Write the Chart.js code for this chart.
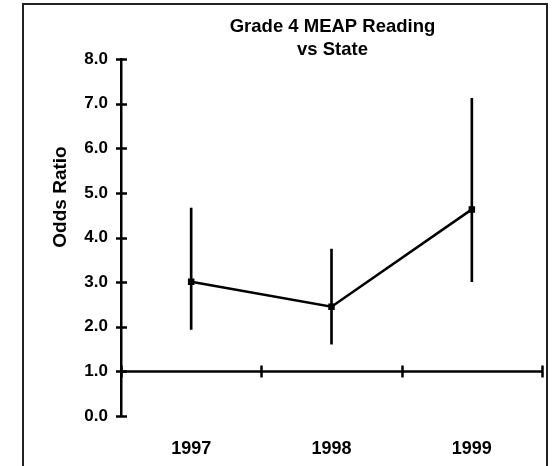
<!DOCTYPE html>
<html>
<head>
<meta charset="utf-8">
<script src="https://cdn.jsdelivr.net/npm/chart.js@4"></script>
<style>
    html, body { margin: 0; padding: 0; background: #fff; }
    #wrap { position: relative; width: 554px; height: 466px; overflow: hidden; }
    #frame {
        position: absolute; left: 22px; top: 3px; width: 526px; height: 480px;
        box-sizing: border-box; border: 2px solid #222;
    }
    canvas { position: absolute; left: 0; top: 0; }
</style>
</head>
<body>
<div id="wrap">
    <div id="frame"></div>
    <canvas id="chart" width="554" height="466"></canvas>
</div>
<script>
// Odds ratio vs state
const years = ['1997', '1998', '1999'];
const oddsRatio = [3.01, 2.45, 4.63];
const lowerLimit = [1.94, 1.61, 3.01];
const upperLimit = [4.66, 3.74, 7.12];
const titleLines = ['Grade 4 MEAP Reading', 'vs State'];
const yTitle = 'Odds Ratio';

const FONT = "'Liberation Sans', Arial, sans-serif";

// axis cross ticks, the x axis sitting at 1.0, and the titles
const axesPlugin = {
    id: 'axesPlugin',
    afterDraw(chart) {
        const ctx = chart.ctx;
        const x = chart.scales.x;
        const y = chart.scales.y;
        const area = chart.chartArea;
        ctx.save();
        ctx.strokeStyle = '#000';
        ctx.lineWidth = 2.5;

        // y ticks cross the axis
        y.ticks.forEach(t => {
            const py = Math.round(y.getPixelForValue(t.value)) + 0.5;
            ctx.beginPath();
            ctx.moveTo(area.left - 5, py);
            ctx.lineTo(area.left + 6, py);
            ctx.stroke();
        });

        // horizontal axis at odds ratio 1.0
        const baseY = Math.round(y.getPixelForValue(1)) + 0.5;
        ctx.beginPath();
        ctx.moveTo(area.left, baseY);
        ctx.lineTo(area.right, baseY);
        ctx.stroke();
        for (let i = 0; i <= years.length; i++) {
            const px = Math.round(x.getPixelForValue(i - 0.5)) + 0.5;
            ctx.beginPath();
            ctx.moveTo(px, baseY - 6);
            ctx.lineTo(px, baseY + 6);
            ctx.stroke();
        }

        // chart title
        ctx.fillStyle = '#000';
        ctx.textAlign = 'center';
        ctx.textBaseline = 'middle';
        ctx.font = 'bold 18.5px ' + FONT;
        const cx = (area.left + area.right) / 2;
        titleLines.forEach((line, i) => {
            ctx.fillText(line, cx + 1, 27 + i * 22.5);
        });

        // y axis title
        ctx.font = 'bold 19px ' + FONT;
        ctx.translate(61, 197);
        ctx.rotate(-Math.PI / 2);
        ctx.fillText(yTitle, 0, 0);
        ctx.restore();
    }
};

new Chart(document.getElementById('chart'), {
    data: {
        labels: years,
        datasets: [{
            type: 'line',
            data: oddsRatio,
            borderColor: '#000',
            backgroundColor: '#000',
            borderWidth: 2.5,
            pointStyle: 'rect',
            pointRadius: 4.6,
            pointBackgroundColor: '#000',
            pointBorderWidth: 0,
            tension: 0,
            order: 0
        },
        {
            type: 'bar',
            data: years.map((_, i) => [lowerLimit[i], upperLimit[i]]),
            backgroundColor: '#000',
            borderWidth: 0,
            barThickness: 2,
            order: 1
        }]
    },
    options: {
        responsive: false,
        animation: false,
        layout: {
            padding: { left: 0, right: 12, top: 59, bottom: 0 }
        },
        plugins: {
            legend: { display: false },
            tooltip: { enabled: false },
            title: { display: false }
        },
        scales: {
            x: {
                type: 'category',
                offset: true,
                grid: { display: false, drawTicks: false },
                border: { display: false },
                ticks: {
                    color: '#000',
                    padding: 22,
                    font: { family: FONT, size: 18, weight: 'bold' }
                },
                afterFit: scale => { scale.height = 50; }
            },
            y: {
                min: 0,
                max: 8,
                grid: { drawOnChartArea: false, drawTicks: false },
                border: { display: true, color: '#000', width: 2.5 },
                ticks: {
                    stepSize: 1,
                    color: '#000',
                    padding: 13,
                    font: { family: FONT, size: 17, weight: 'bold' },
                    callback: value => value.toFixed(1)
                },
                afterFit: scale => { scale.width = 121; }
            }
        }
    },
    plugins: [axesPlugin]
});
</script>
</body>
</html>
